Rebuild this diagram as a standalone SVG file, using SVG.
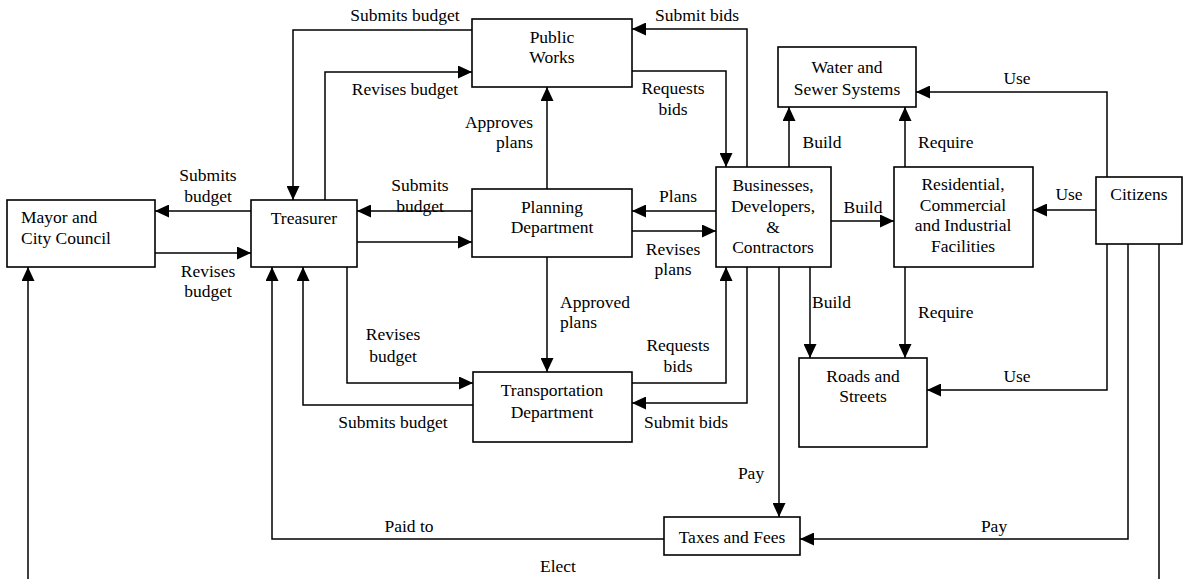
<svg xmlns="http://www.w3.org/2000/svg" width="1188" height="579" viewBox="0 0 1188 579" font-family="'Liberation Serif', 'DejaVu Serif', serif">
<style>
  .box { fill: #fff; stroke: #000; stroke-width: 1.6; }
  text { font-family: 'Liberation Serif', 'DejaVu Serif', serif; font-size: 17.5px; fill: #000; }
  .c { text-anchor: middle; }
  .e { text-anchor: end; }
  .con path { fill: none; stroke: #000; stroke-width: 1.5; marker-end: url(#arr); }
</style>
<defs>
  <marker id="arr" markerUnits="userSpaceOnUse" markerWidth="14" markerHeight="13" refX="14" refY="6.5" orient="auto">
    <path d="M0,0 L14,6.5 L0,13 z" fill="#000"/>
  </marker>
</defs>
<rect width="1188" height="579" fill="#fff"/>

<g id="connectors" class="con">
  <path d="M251,211 H155"/>
  <path d="M155,253 H251"/>
  <path d="M472,211 H357"/>
  <path d="M357,242 H472"/>
  <path d="M472,30 H293 V200"/>
  <path d="M325,200 V72 H472"/>
  <path d="M547,189 V87"/>
  <path d="M547,257 V372"/>
  <path d="M632,71 H726 V167"/>
  <path d="M747,167 V29 H632"/>
  <path d="M716,211 H632"/>
  <path d="M632,231 H716"/>
  <path d="M347,267 V383 H473"/>
  <path d="M473,405 H303 V267"/>
  <path d="M632,383 H726 V267"/>
  <path d="M747,267 V403 H632"/>
  <path d="M779,267 V517"/>
  <path d="M664,539 H272 V267"/>
  <path d="M1128,244 V539 H800"/>
  <path d="M789,167 V107"/>
  <path d="M905,167 V107"/>
  <path d="M1107,177 V92 H916"/>
  <path d="M831,221 H894"/>
  <path d="M1096,210 H1033"/>
  <path d="M810,267 V358"/>
  <path d="M905,267 V358"/>
  <path d="M1107,244 V390 H927"/>
  <path d="M1159,244 V595 H28 V267"/>
</g>

<g id="labels">
  <text class="c" x="208" y="181">Submits</text>
  <text class="c" x="208" y="202">budget</text>
  <text class="c" x="208" y="277">Revises</text>
  <text class="c" x="208" y="297">budget</text>
  <text class="c" x="420" y="191">Submits</text>
  <text class="c" x="420" y="212">budget</text>
  <text class="c" x="405" y="21">Submits budget</text>
  <text class="c" x="405" y="95">Revises budget</text>
  <text class="e" x="533" y="128">Approves</text>
  <text class="e" x="533" y="148">plans</text>
  <text x="560" y="308">Approved</text>
  <text x="560" y="328">plans</text>
  <text class="c" x="673" y="94">Requests</text>
  <text class="c" x="673" y="115">bids</text>
  <text class="c" x="697" y="21">Submit bids</text>
  <text class="c" x="678" y="202">Plans</text>
  <text class="c" x="673" y="255">Revises</text>
  <text class="c" x="673" y="275">plans</text>
  <text class="c" x="393" y="340">Revises</text>
  <text class="c" x="393" y="362">budget</text>
  <text class="c" x="678" y="351">Requests</text>
  <text class="c" x="678" y="372">bids</text>
  <text class="c" x="393" y="428">Submits budget</text>
  <text class="c" x="686" y="428">Submit bids</text>
  <text class="c" x="822" y="148">Build</text>
  <text x="918" y="148">Require</text>
  <text class="c" x="1017" y="84">Use</text>
  <text class="c" x="863" y="213">Build</text>
  <text class="c" x="1069" y="200">Use</text>
  <text x="812" y="308">Build</text>
  <text x="918" y="318">Require</text>
  <text class="c" x="1017" y="382">Use</text>
  <text class="c" x="751" y="479">Pay</text>
  <text class="c" x="409" y="532">Paid to</text>
  <text class="c" x="994" y="532">Pay</text>
  <text class="c" x="558" y="572">Elect</text>
</g>

<g id="mayor">
  <rect class="box" x="7" y="200" width="148" height="67"/>
  <text x="21" y="223">Mayor and</text>
  <text x="21" y="244">City Council</text>
</g>
<g id="treasurer">
  <rect class="box" x="251" y="200" width="106" height="67"/>
  <text class="c" x="304" y="224">Treasurer</text>
</g>
<g id="public-works">
  <rect class="box" x="472" y="19" width="160" height="68"/>
  <text class="c" x="552" y="43">Public</text>
  <text class="c" x="552" y="63">Works</text>
</g>
<g id="planning">
  <rect class="box" x="472" y="189" width="160" height="68"/>
  <text class="c" x="552" y="213">Planning</text>
  <text class="c" x="552" y="233">Department</text>
</g>
<g id="transportation">
  <rect class="box" x="473" y="372" width="159" height="70"/>
  <text class="c" x="552" y="396">Transportation</text>
  <text class="c" x="552" y="418">Department</text>
</g>
<g id="businesses">
  <rect class="box" x="716" y="167" width="115" height="100"/>
  <text class="c" x="773" y="191">Businesses,</text>
  <text class="c" x="773" y="212">Developers,</text>
  <text class="c" x="773" y="233">&amp;</text>
  <text class="c" x="773" y="253">Contractors</text>
</g>
<g id="water">
  <rect class="box" x="778" y="47" width="138" height="60"/>
  <text class="c" x="847" y="73">Water and</text>
  <text class="c" x="847" y="95">Sewer Systems</text>
</g>
<g id="residential">
  <rect class="box" x="894" y="167" width="139" height="100"/>
  <text class="c" x="963" y="190">Residential,</text>
  <text class="c" x="963" y="211">Commercial</text>
  <text class="c" x="963" y="231">and Industrial</text>
  <text class="c" x="963" y="252">Facilities</text>
</g>
<g id="citizens">
  <rect class="box" x="1096" y="177" width="86" height="67"/>
  <text class="c" x="1139" y="200">Citizens</text>
</g>
<g id="roads">
  <rect class="box" x="799" y="358" width="128" height="89"/>
  <text class="c" x="863" y="382">Roads and</text>
  <text class="c" x="863" y="402">Streets</text>
</g>
<g id="taxes">
  <rect class="box" x="664" y="517" width="136" height="38"/>
  <text class="c" x="732" y="543">Taxes and Fees</text>
</g>
</svg>
